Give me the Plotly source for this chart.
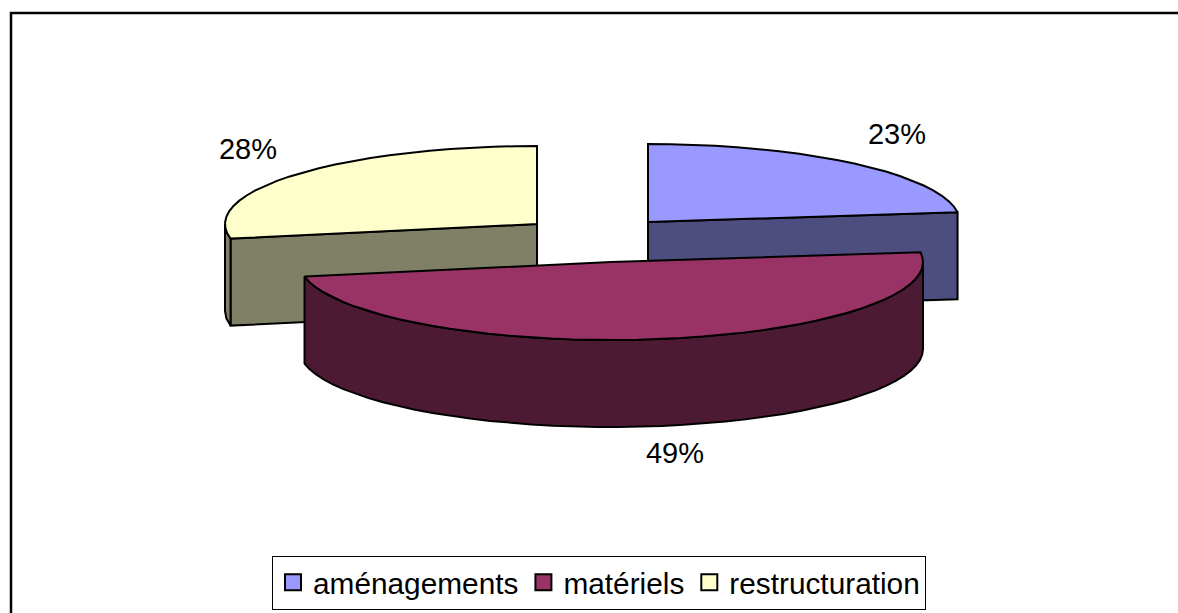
import numpy as np
import plotly.graph_objects as go

# Données du graphique
categories = ["aménagements", "matériels", "restructuration"]
values = [23, 49, 28]
top_colors = ["#9999FF", "#993366", "#FFFFCC"]
side_colors = ["#4D4D80", "#4D1A33", "#808066"]

# Géométrie du camembert éclaté (pixels de la page)
centers = [(648, 222), (611, 262), (537, 224)]
label_pos = [(897, 137), (675, 456), (248, 152)]
draw_order = [2, 0, 1]
RX, RY, DEPTH = 312, 78, 87
LINE = dict(color="black", width=2)
W, H = 1178, 613


def rim(cx, cy, a0, a1):
    """Points de l'ellipse entre deux angles (degrés, sens horaire depuis le haut)."""
    t = np.radians(np.linspace(a0, a1, max(int((a1 - a0) / 4) + 1, 2)))
    return cx + RX * np.sin(t), cy - RY * np.cos(t)


def add_poly(fig, xs, ys, color):
    fig.add_trace(go.Scatter(
        x=list(xs) + [xs[0]], y=list(ys) + [ys[0]],
        mode="lines", fill="toself", fillcolor=color, line=LINE,
        showlegend=False, hoverinfo="skip",
    ))


def add_radial_face(fig, cx, cy, angle, color):
    x, y = rim(cx, cy, angle, angle)
    add_poly(fig, [cx, x[0], x[0], cx], [cy, y[0], y[0] + DEPTH, cy + DEPTH], color)


fig = go.Figure()

shares = np.array(values) / sum(values) * 360
ends = np.cumsum(shares)
starts = ends - shares

for i in draw_order:
    cx, cy = centers[i]
    a0, a1 = starts[i], ends[i]

    # faces latérales visibles
    if 180 < a0 < 360:
        add_radial_face(fig, cx, cy, a0, side_colors[i])
    if 0 < a1 < 180:
        add_radial_face(fig, cx, cy, a1, side_colors[i])
    w0, w1 = max(a0, 90), min(a1, 270)
    if w0 < w1:
        x, y = rim(cx, cy, w0, w1)
        add_poly(fig, np.r_[x, x[::-1]], np.r_[y, y[::-1] + DEPTH], side_colors[i])

    # dessus de la part
    x, y = rim(cx, cy, a0, a1)
    add_poly(fig, np.r_[cx, x], np.r_[cy, y], top_colors[i])

# pourcentages
fig.add_trace(go.Scatter(
    x=[p[0] for p in label_pos], y=[p[1] for p in label_pos],
    text=[f"{v}%" for v in values], mode="text",
    textfont=dict(size=29, color="black"),
    showlegend=False, hoverinfo="skip",
))

# entrées de légende
for name, color in zip(categories, top_colors):
    fig.add_trace(go.Scatter(
        x=[None], y=[None], name=name, mode="markers",
        marker=dict(symbol="square", size=16, color=color, line=dict(color="black", width=2)),
    ))

fig.add_shape(
    type="rect", x0=11, y0=13, x1=W + 10, y1=H + 10,
    line=dict(color="black", width=2.5), fillcolor="rgba(0,0,0,0)", layer="below",
)

fig.update_xaxes(range=[0, W], visible=False)
fig.update_yaxes(range=[H, 0], visible=False)
fig.update_layout(
    width=W, height=H,
    margin=dict(t=0, b=0, l=0, r=0),
    paper_bgcolor="white", plot_bgcolor="white",
    font=dict(family="Liberation Sans, Arial, sans-serif", color="black"),
    legend=dict(
        orientation="h", x=599 / W, y=1 - 582.5 / H, xanchor="center", yanchor="middle",
        bordercolor="black", borderwidth=1, bgcolor="white",
        font=dict(size=29.8), itemsizing="trace", tracegroupgap=0,
    ),
)

# la page garde sinon 8 px de marge autour du graphique
fig.write_html(
    "out.html",
    config=dict(displayModeBar=False),
    post_script="document.body.style.margin='0';document.documentElement.style.overflow='hidden';",
)
